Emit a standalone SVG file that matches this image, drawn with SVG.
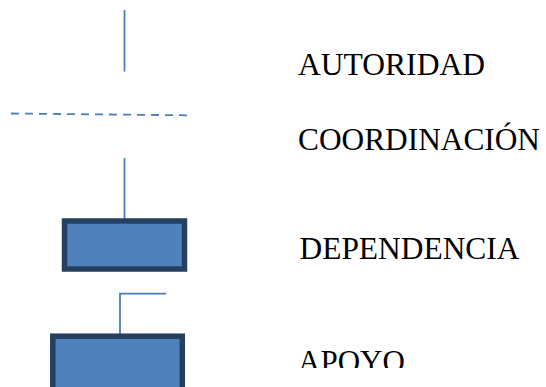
<svg xmlns="http://www.w3.org/2000/svg" width="546" height="387" viewBox="0 0 546 387">
  <style>
    .ln { stroke: #4A7EBB; stroke-width: 1.8; fill: none; }
    .box { fill: #4F81BD; stroke: #243F60; stroke-width: 5.5; }
    .lbl { font-family: "Liberation Serif", "Times New Roman", serif; font-size: 31px; fill: #000; }
  </style>
  <defs>
    <clipPath id="clipApoyo"><rect x="290" y="340" width="200" height="28"/></clipPath>
  </defs>
  <g id="connectors">
    <line class="ln" x1="124.5" y1="10" x2="124.5" y2="71.5"/>
    <line class="ln" x1="11" y1="113.5" x2="188" y2="115.3" stroke-dasharray="8,6"/>
    <line class="ln" x1="124.5" y1="158" x2="124.5" y2="219"/>
    <polyline class="ln" points="120,334.5 120,293.7 166,293.7"/>
  </g>
  <g id="node-dependencia-box">
    <rect class="box" x="64.5" y="221" width="120" height="48"/>
  </g>
  <g id="node-apoyo-box">
    <rect class="box" x="52.8" y="336.2" width="129.5" height="80"/>
  </g>
  <g id="legend-autoridad">
    <text class="lbl" x="298" y="75" textLength="187" lengthAdjust="spacingAndGlyphs">AUTORIDAD</text>
  </g>
  <g id="legend-coordinacion">
    <text class="lbl" x="298" y="150" textLength="242" lengthAdjust="spacingAndGlyphs">COORDINACIÓN</text>
  </g>
  <g id="legend-dependencia">
    <text class="lbl" x="299.5" y="258.5" textLength="220" lengthAdjust="spacingAndGlyphs">DEPENDENCIA</text>
  </g>
  <g id="legend-apoyo" clip-path="url(#clipApoyo)">
    <text class="lbl" x="298" y="371.5">APOYO</text>
  </g>
</svg>
